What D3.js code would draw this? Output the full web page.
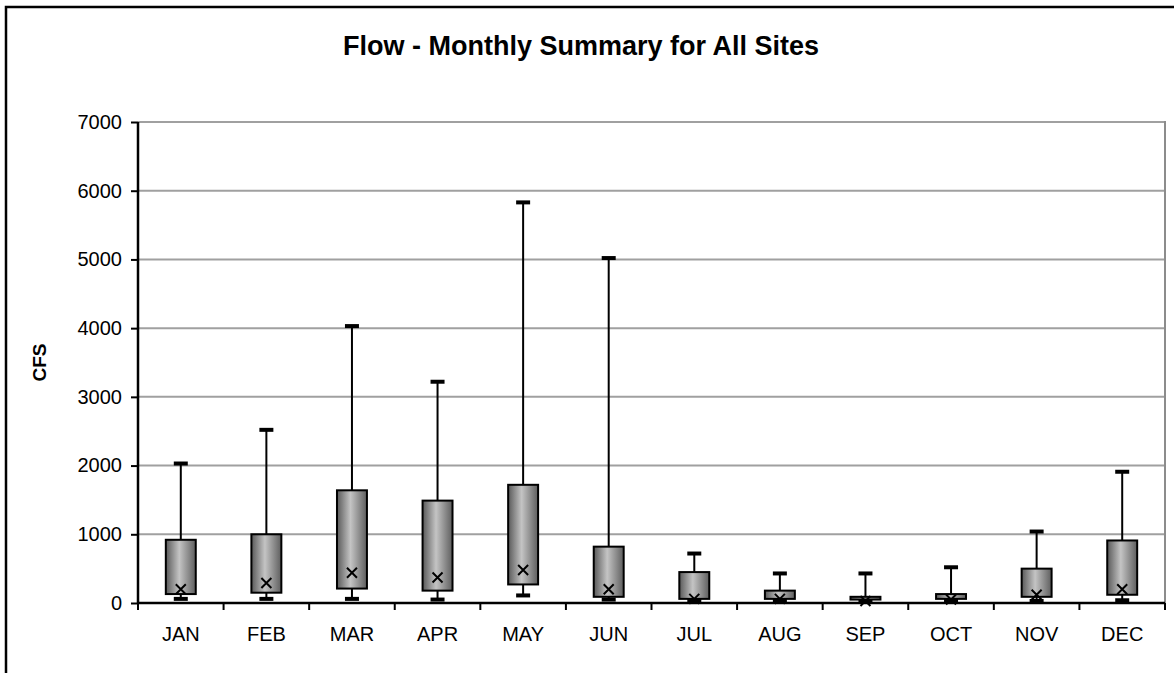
<!DOCTYPE html>
<html>
<head>
<meta charset="utf-8">
<script src="https://cdn.jsdelivr.net/npm/d3@7"></script>
<style>
  body { margin: 0; background: #fff; }
  text { font-family: Arial, "Liberation Sans", sans-serif; }
</style>
</head>
<body>
<script>
// monthly flow summary values (CFS)
var months = ["JAN", "FEB", "MAR", "APR", "MAY", "JUN", "JUL", "AUG", "SEP", "OCT", "NOV", "DEC"];
var maxVals = [2030, 2520, 4030, 3220, 5830, 5020, 720, 430, 430, 520, 1040, 1910];
var q3Vals = [920, 1000, 1640, 1490, 1720, 820, 450, 180, 90, 130, 500, 910];
var meanVals = [200, 290, 440, 370, 480, 200, 60, 60, 30, 50, 120, 200];
var q1Vals = [130, 150, 210, 180, 270, 90, 60, 60, 50, 60, 90, 120];
var minVals = [60, 60, 60, 50, 110, 50, 40, 40, 30, 30, 30, 40];
var yTicks = [0, 1000, 2000, 3000, 4000, 5000, 6000, 7000];

function drawChart() {
    var W = 1174, H = 673;
    var pLeft = 138, pRight = 1165, pTop = 122, pBottom = 603;

    var svg = d3.select("body").append("svg")
        .attr("width", W)
        .attr("height", H);

    // outer chart frame (cut off at right and bottom)
    svg.append("rect")
        .attr("x", 6).attr("y", 7)
        .attr("width", 1200).attr("height", 700)
        .style("fill", "#fff")
        .style("stroke", "#000")
        .style("stroke-width", 2.5);

    var defs = svg.append("defs");
    var grad = defs.append("linearGradient")
        .attr("id", "boxFill")
        .attr("x1", "0%").attr("x2", "100%")
        .attr("y1", "0%").attr("y2", "0%");
    grad.append("stop").attr("offset", "0%").attr("stop-color", "#595959");
    grad.append("stop").attr("offset", "45%").attr("stop-color", "#c4c4c4");
    grad.append("stop").attr("offset", "100%").attr("stop-color", "#5e5e5e");

    var x = d3.scaleBand()
        .domain(months)
        .range([pLeft, pRight])
        .padding(0);

    var y = d3.scaleLinear()
        .domain([0, 7000])
        .range([pBottom, pTop]);

    // gridlines
    svg.append("g")
        .selectAll("line")
        .data(yTicks.filter(function(d) { return d > 0; }))
        .enter().append("line")
        .attr("x1", pLeft).attr("x2", pRight)
        .attr("y1", function(d) { return y(d); })
        .attr("y2", function(d) { return y(d); })
        .style("stroke", "#a0a0a0")
        .style("stroke-width", 2);

    // plot area right border
    svg.append("line")
        .attr("x1", pRight).attr("x2", pRight)
        .attr("y1", pTop - 1).attr("y2", pBottom)
        .style("stroke", "#8c8c8c")
        .style("stroke-width", 2);

    // y axis
    var yAxis = d3.axisLeft(y)
        .tickValues(yTicks)
        .tickSize(7)
        .tickPadding(9)
        .tickFormat(d3.format("d"));

    var gy = svg.append("g")
        .attr("transform", "translate(" + pLeft + ",0)")
        .call(yAxis);
    gy.select(".domain").style("stroke", "#000").style("stroke-width", 2.5)
        .attr("d", "M0," + pTop + "V" + pBottom);
    gy.selectAll(".tick line").style("stroke", "#000").style("stroke-width", 2);
    gy.selectAll(".tick text")
        .style("font-size", "20px")
        .style("fill", "#000");

    // x axis
    var xAxis = d3.axisBottom(x).tickSize(0).tickPadding(24);
    var gx = svg.append("g")
        .attr("transform", "translate(0," + pBottom + ")")
        .call(xAxis);
    gx.select(".domain").style("stroke", "#000").style("stroke-width", 2.5)
        .attr("d", "M" + pLeft + ",0H" + pRight);
    gx.selectAll(".tick text")
        .style("font-size", "20px")
        .style("fill", "#000");

    // x tick marks at category boundaries
    var bounds = months.map(function(m) { return x(m); }).concat([pRight]);
    gx.selectAll(".bound")
        .data(bounds)
        .enter().append("line")
        .attr("class", "bound")
        .attr("x1", function(d) { return d; })
        .attr("x2", function(d) { return d; })
        .attr("y1", 0).attr("y2", 7)
        .style("stroke", "#000")
        .style("stroke-width", 2);

    // boxes
    var boxW = x.bandwidth() * 0.35;
    var capW = 14;
    var data = months.map(function(m, i) {
        return { m: m, max: maxVals[i], q3: q3Vals[i], mean: meanVals[i], q1: q1Vals[i], min: minVals[i] };
    });

    var g = svg.append("g")
        .selectAll("g")
        .data(data)
        .enter().append("g")
        .attr("transform", function(d) { return "translate(" + (x(d.m) + x.bandwidth() / 2) + ",0)"; });

    // whiskers
    g.append("line")
        .attr("x1", 0).attr("x2", 0)
        .attr("y1", function(d) { return y(d.max); })
        .attr("y2", function(d) { return y(d.min); })
        .style("stroke", "#000")
        .style("stroke-width", 2);

    // caps
    g.append("line")
        .attr("x1", -capW / 2).attr("x2", capW / 2)
        .attr("y1", function(d) { return y(d.max); })
        .attr("y2", function(d) { return y(d.max); })
        .style("stroke", "#000")
        .style("stroke-width", 4);
    g.append("line")
        .attr("x1", -capW / 2).attr("x2", capW / 2)
        .attr("y1", function(d) { return y(d.min); })
        .attr("y2", function(d) { return y(d.min); })
        .style("stroke", "#000")
        .style("stroke-width", 4);

    g.append("rect")
        .attr("x", -boxW / 2)
        .attr("width", boxW)
        .attr("y", function(d) { return y(d.q3); })
        .attr("height", function(d) { return y(d.q1) - y(d.q3); })
        .style("fill", "url(#boxFill)")
        .style("stroke", "#000")
        .style("stroke-width", 2);

    // mean markers
    var s = 5;
    g.append("path")
        .attr("d", function(d) {
            var cy = y(d.mean);
            return "M" + (-s) + "," + (cy - s) + "L" + s + "," + (cy + s) +
                   "M" + s + "," + (cy - s) + "L" + (-s) + "," + (cy + s);
        })
        .style("stroke", "#000")
        .style("stroke-width", 2)
        .style("fill", "none");

    // title
    svg.append("text")
        .attr("x", 581)
        .attr("y", 55)
        .attr("text-anchor", "middle")
        .style("font-size", "27px")
        .style("font-weight", "bold")
        .text("Flow - Monthly Summary for All Sites");

    // y label
    svg.append("text")
        .attr("transform", "translate(46," + ((pTop + pBottom) / 2) + ") rotate(-90)")
        .attr("text-anchor", "middle")
        .style("font-size", "19px")
        .style("font-weight", "bold")
        .text("CFS");
}

drawChart();
</script>
</body>
</html>
